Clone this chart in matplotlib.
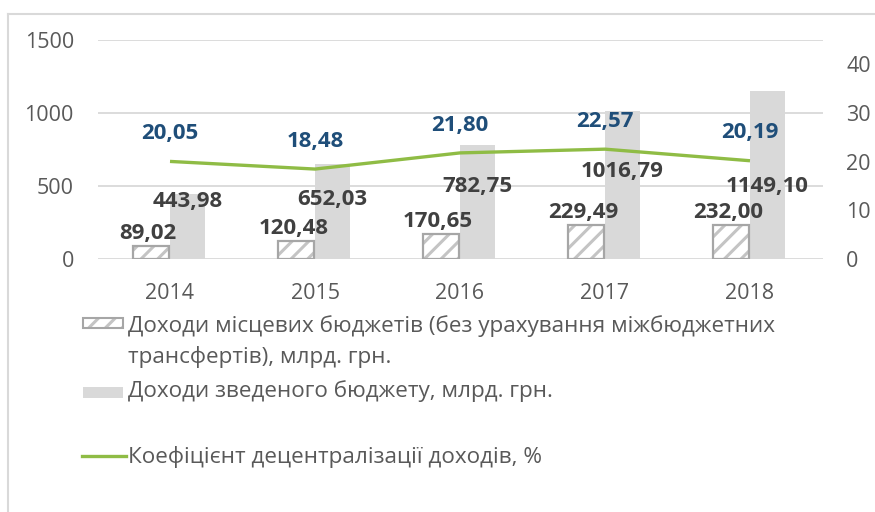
import matplotlib
matplotlib.use("Agg")
import matplotlib.pyplot as plt
from matplotlib.patches import Rectangle
from matplotlib.lines import Line2D
import numpy as np

plt.rcParams['font.family'] = ['Open Sans', 'DejaVu Sans']
plt.rcParams['hatch.linewidth'] = 2.2

years = ['2014', '2015', '2016', '2017', '2018']
local_income = [89.02, 120.48, 170.65, 229.49, 232.00]
total_income = [443.98, 652.03, 782.75, 1016.79, 1149.10]
decentral = [20.05, 18.48, 21.80, 22.57, 20.19]

# label placement (data units on left axis) for total income labels
total_label_y = [395, 409, 498, 600, 498]

fmt = lambda v: f"{v:.2f}".replace('.', ',')

TXT = '#595959'
DARK = '#404040'
BLUE = '#1f4e79'
GREEN = '#8fbc45'
GRID = '#d9d9d9'
HATCH_EDGE = '#a6a6a6'
HATCH_LINE = '#c4c4c4'
BAR_GRAY = '#d9d9d9'

fig = plt.figure(figsize=(8.75, 5.12), dpi=100)
ax = fig.add_axes([97.5/875, 1-259/512, 725/875, 219/512])
ax2 = ax.twinx()

x = np.arange(len(years))
w = 0.245
off_l, off_t = -0.13, 0.12

ax.bar(x + off_l, local_income, width=w, facecolor='white', edgecolor=HATCH_LINE,
       hatch='//', linewidth=0, zorder=2)
ax.bar(x + off_l, local_income, width=w, facecolor='none', edgecolor=HATCH_EDGE,
       linewidth=1.6, zorder=2.1)
ax.bar(x + off_t, total_income, width=w, color=BAR_GRAY, linewidth=0, zorder=2)

ax.set_xlim(-0.5, len(years) - 0.5)
ax.set_ylim(0, 1500)
ax.set_yticks([0, 500, 1000, 1500])
ax.set_xticks(x)
ax.set_xticklabels(years)
ax.grid(axis='y', color=GRID, linewidth=1.3, zorder=0)
ax.set_axisbelow(True)
for s in ax.spines.values():
    s.set_visible(False)
ax.tick_params(axis='both', length=0, colors=TXT, labelsize=15.5)
ax.tick_params(axis='y', pad=17)
ax.tick_params(axis='x', pad=17)

ax2.plot(x, decentral, color=GREEN, linewidth=2.4, solid_capstyle='butt', zorder=3)
ax2.set_ylim(0, 45)
ax2.set_yticks([0, 10, 20, 30, 40])
for s in ax2.spines.values():
    s.set_visible(False)
ax2.tick_params(axis='y', length=0, colors=TXT, labelsize=15.5, pad=17)

# data labels
lab_fs = 16
for i, v in enumerate(local_income):
    ax.annotate(fmt(v), (x[i] + off_l - 0.02, v), xytext=(0, 9), textcoords='offset points',
                ha='center', va='center', fontsize=lab_fs, fontweight='bold', color=DARK, zorder=5)
for i, v in enumerate(total_income):
    ax.text(x[i] + off_t, total_label_y[i], fmt(v), ha='center', va='center',
            fontsize=lab_fs, fontweight='bold', color=DARK, zorder=5)
for i, v in enumerate(decentral):
    ax2.annotate(fmt(v), (x[i], v), xytext=(0, 20), textcoords='offset points',
                 ha='center', va='center', fontsize=lab_fs, fontweight='bold', color=BLUE, zorder=5)

# chart frame (partially visible)
fig.add_artist(Line2D([8/875, 1], [1-14/512, 1-14/512], transform=fig.transFigure, color=GRID, lw=1.5))
fig.add_artist(Line2D([8/875, 8/875], [0, 1-14/512], transform=fig.transFigure, color=GRID, lw=1.5))

# legend (manual)
def fx(px): return px/875
def fy(py): return 1 - py/512

fig.add_artist(Rectangle((fx(83), fy(328)), fx(40), 10/512, transform=fig.transFigure,
                         facecolor='white', edgecolor=HATCH_LINE, hatch='//', linewidth=0))
fig.add_artist(Rectangle((fx(83), fy(328)), fx(40), 10/512, transform=fig.transFigure,
                         facecolor='none', edgecolor=HATCH_EDGE, linewidth=1.5))
fig.add_artist(Rectangle((fx(83), fy(398)), fx(40), 11/512, transform=fig.transFigure,
                         facecolor=BAR_GRAY, edgecolor='none'))
fig.add_artist(Line2D([fx(82), fx(126)], [fy(456), fy(456)], transform=fig.transFigure,
                      color=GREEN, lw=2.4))
leg_fs = 16.2
fig.text(fx(128), fy(326), 'Доходи місцевих бюджетів (без урахування міжбюджетних',
         ha='left', va='center', fontsize=leg_fs, color=TXT)
fig.text(fx(128), fy(357), 'трансфертів), млрд. грн.', ha='left', va='center', fontsize=leg_fs, color=TXT)
fig.text(fx(128), fy(391), 'Доходи зведеного бюджету, млрд. грн.', ha='left', va='center',
         fontsize=leg_fs, color=TXT)
fig.text(fx(128), fy(457), 'Коефіцієнт децентралізації доходів, %', ha='left', va='center',
         fontsize=leg_fs, color=TXT)

fig.savefig('out.png', dpi=100)
